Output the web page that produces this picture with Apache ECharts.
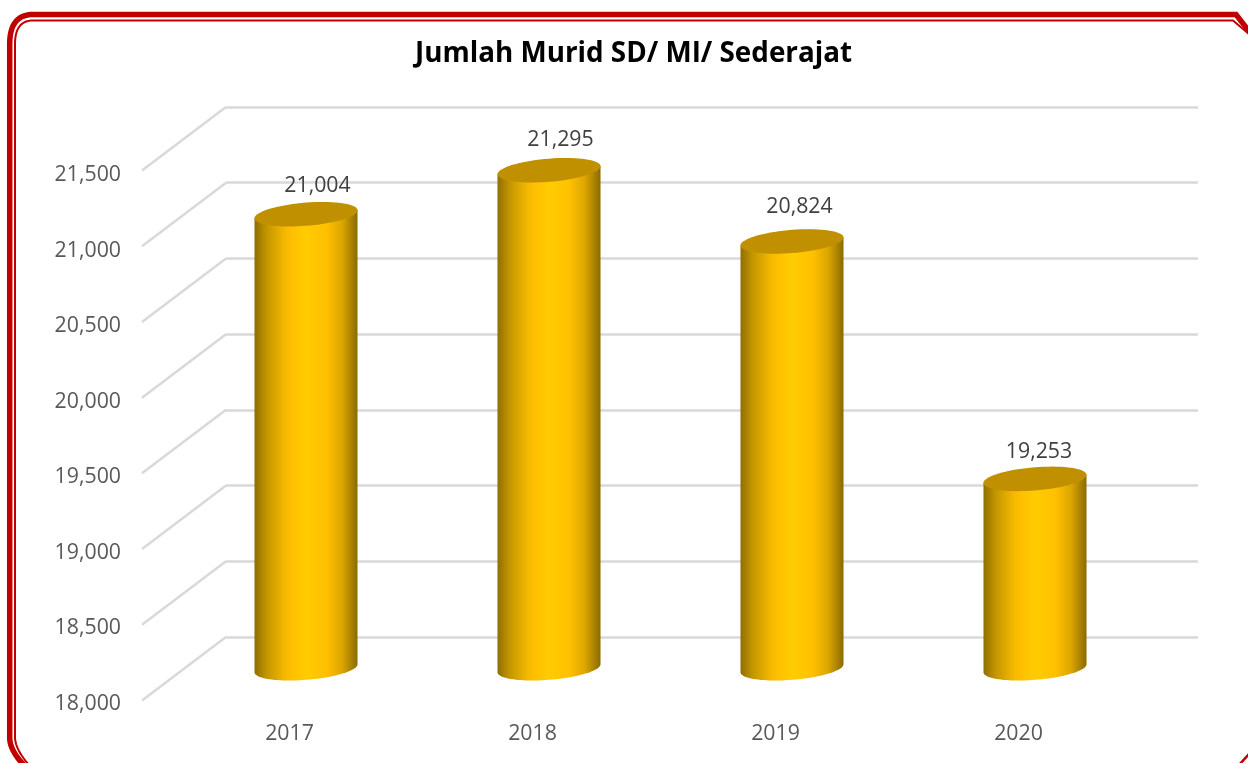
<!DOCTYPE html>
<html>
<head>
<meta charset="utf-8">
<style>html,body{margin:0;padding:0;background:#fff;overflow:hidden}#c{width:1248px;height:763px}</style>
<script src="https://cdn.jsdelivr.net/npm/echarts@6/dist/echarts.min.js"></script>
</head>
<body>
<div id="c"></div>
<script>
const titleText = 'Jumlah Murid SD/ MI/ Sederajat';
const years = ['2017', '2018', '2019', '2020'];
const students = [21004, 21295, 20824, 19253];
const wallTicks = [18000, 18500, 19000, 19500, 20000, 20500, 21000, 21500];

const FONT = '"Open Sans", sans-serif';
const DEPTH_X = 84, DEPTH_Y = 63.5;   // front plane -> back wall
const BAR_SHIFT_X = 16.5;             // bars sit right of the category label
const BAR_LIFT_Y = 35.75;             // label plane -> middle of the floor depth
const RED = '#c00000';
// hand placement of the value labels relative to each cylinder's top
const LABEL_DX = [11.5, 11.5, 7.5, 4];
const LABEL_DY = [-28, -30, -34, -27];

function ellipsePoint(cx, cy, a, b, k, t) {
  return [cx + a * Math.cos(t), cy + b * Math.sin(t) - k * Math.cos(t)];
}
function arc(cx, cy, a, b, k, from, to, n) {
  const pts = [];
  for (let i = 0; i <= n; i++) pts.push(ellipsePoint(cx, cy, a, b, k, from + (to - from) * i / n));
  return pts;
}
function renderCylinder(params, api) {
  const idx = api.value(0);
  const front = api.coord([idx, api.value(1)]);
  const base = api.coord([idx, 18000]);
  const cx = front[0] + BAR_SHIFT_X;
  const topY = front[1] - BAR_LIFT_Y;
  const botY = base[1] - BAR_LIFT_Y;
  const a = api.size([1, 0])[0] * 0.212, b = 11.6, k = 4;
  const body = [[cx - a, topY + k]].concat(arc(cx, botY, a, b, k, Math.PI, 0, 48), [[cx + a, topY - k]]);
  return {
    type: 'group',
    children: [
      { type: 'polygon', shape: { points: body },
        style: { fill: new echarts.graphic.LinearGradient(0, 0, 1, 0, [
          { offset: 0, color: '#8f6f00' },
          { offset: 0.12, color: '#c49600' },
          { offset: 0.3, color: '#f5b900' },
          { offset: 0.37, color: '#ffc000' },
          { offset: 0.5, color: '#ffcc00' },
          { offset: 0.7, color: '#ffc000' },
          { offset: 0.85, color: '#dca600' },
          { offset: 1, color: '#8a6a00' }
        ]) } },
      { type: 'polygon', shape: { points: arc(cx, topY, a, b, k, 0, Math.PI * 2, 72) },
        style: { fill: '#c09000' } },
      { type: 'text',
        style: { x: cx + LABEL_DX[idx], y: topY + LABEL_DY[idx], text: api.value(1).toLocaleString('en-US'),
          font: '21.3px ' + FONT, fill: '#404040', align: 'center', verticalAlign: 'middle' } }
    ]
  };
}
function renderDepthLine(params, api) {
  const back = api.coord([0, api.value(0)]);
  return { type: 'line',
    shape: { x1: back[0], y1: back[1], x2: back[0] - DEPTH_X, y2: back[1] + DEPTH_Y },
    style: { stroke: '#d9d9d9', lineWidth: 2.5, fill: null } };
}
// frame outline: straight runs joined by quadratic corners
function qCurve(p0, c, p1, n) {
  const pts = [];
  for (let i = 0; i <= n; i++) {
    const t = i / n, u = 1 - t;
    pts.push([u * u * p0[0] + 2 * u * t * c[0] + t * t * p1[0], u * u * p0[1] + 2 * u * t * c[1] + t * t * p1[1]]);
  }
  return pts;
}
const outerFrame = [[1252, 35], [1236, 14.5]].concat(
  qCurve([33, 14.5], [9.7, 14.5], [9.7, 44], 16),
  qCurve([9.7, 738], [10, 752], [27, 768], 12));
const innerFrame = [[1250, 35], [1233, 20.5]].concat(
  qCurve([33, 20.5], [15, 20.5], [15, 44], 16),
  qCurve([15, 738], [15.5, 750], [30, 766], 12));

const chart = echarts.init(document.getElementById('c'), null, { renderer: 'canvas' });
chart.setOption({
  animation: false,
  backgroundColor: '#ffffff',
  title: { text: titleText, left: 628.5, top: 35, textAlign: 'center',
    textStyle: { fontFamily: FONT, fontWeight: 'bold', fontSize: 27.8, color: '#000000' } },
  grid: [
    { left: 226, top: 107, width: 972, height: 530 },   // back wall
    { left: 168, top: 175, width: 972, height: 529 }    // label plane
  ],
  xAxis: [
    { gridIndex: 0, type: 'value', min: 0, max: 1, show: false },
    { gridIndex: 1, type: 'category', data: years,
      axisLine: { show: false }, axisTick: { show: false },
      axisLabel: { margin: 19, fontFamily: FONT, fontSize: 21.3, color: '#595959' } }
  ],
  yAxis: [
    { gridIndex: 0, type: 'value', min: 18000, max: 21500, interval: 500,
      axisLine: { show: false }, axisTick: { show: false }, axisLabel: { show: false },
      splitLine: { show: true, lineStyle: { color: '#d9d9d9', width: 2.5 } } },
    { gridIndex: 1, type: 'value', min: 18000, max: 21500, interval: 500,
      axisLine: { show: false }, axisTick: { show: false }, splitLine: { show: false },
      axisLabel: { margin: 47, fontFamily: FONT, fontSize: 21.3, color: '#595959',
        formatter: v => v.toLocaleString('en-US') } }
  ],
  series: [
    { type: 'custom', name: 'depth', xAxisIndex: 0, yAxisIndex: 0, clip: false, silent: true, z: 1,
      renderItem: renderDepthLine, encode: { y: 0 }, data: wallTicks.map(v => [v]) },
    { type: 'custom', name: 'Jumlah Murid', xAxisIndex: 1, yAxisIndex: 1, clip: false, z: 3,
      renderItem: renderCylinder, encode: { x: 0, y: 1 }, data: students.map((v, i) => [i, v]) }
  ],
  graphic: [
    { type: 'polyline', silent: true, z: 10, shape: { points: outerFrame },
      style: { fill: null, stroke: RED, lineWidth: 5.5 } },
    { type: 'polyline', silent: true, z: 10, shape: { points: innerFrame },
      style: { fill: null, stroke: RED, lineWidth: 2 } },
    { type: 'line', silent: true, z: 10, shape: { x1: 1239, y1: 765, x2: 1250, y2: 753 },
      style: { fill: null, stroke: RED, lineWidth: 2.5 } }
  ]
});
</script>
</body>
</html>
